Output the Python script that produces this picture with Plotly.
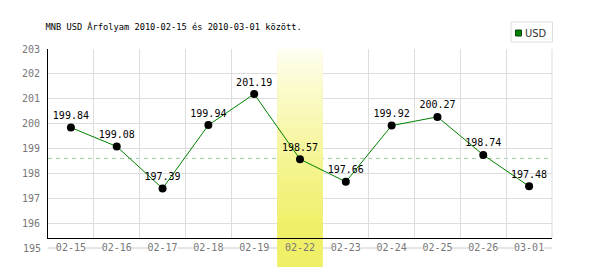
import plotly.graph_objects as go

# ---- data ----
categories = ["02-15", "02-16", "02-17", "02-18", "02-19", "02-22",
              "02-23", "02-24", "02-25", "02-26", "03-01"]
usd_rate = [199.84, 199.08, 197.39, 199.94, 201.19, 198.57,
            197.66, 199.92, 200.27, 198.74, 197.48]
y_ticks = [196, 197, 198, 199, 200, 201, 202, 203]
bottom_label = "195"
ref_level = 198.6
highlight_cat = "02-22"
title_text = "MNB USD Árfolyam 2010-02-15 és 2010-03-01 között."
series_name = "USD"

# ---- geometry (pixels) ----
W, H = 600, 270
L, R, T, B = 48, 48, 49, 32
plot_h = H - T - B
y_min, y_max = 195.4, 203
band_bottom = 267

MONO = "DejaVu Sans Mono"


def px_x(p):
    return (p - L) / (W - L - R)


def px_y(p):
    return (H - B - p) / plot_h


def px_val(p):
    return y_max - (p - T) * (y_max - y_min) / plot_h


fig = go.Figure()
fig.add_trace(go.Scatter(
    x=categories, y=usd_rate, mode="lines+markers+text",
    name=series_name, showlegend=False,
    line=dict(color="#008000", width=1),
    marker=dict(color="black", size=8),
    text=[f"{v:.2f}" for v in usd_rate], textposition="top center",
    textfont=dict(family=MONO, size=10, color="black"),
    cliponaxis=False, hoverinfo="skip",
))

shapes = []
# gray line at the 195 level, between x tick labels
for k in range(len(categories) + 1):
    b = k - 0.5
    shapes.append(dict(type="line", xref="x", yref="paper",
                       x0=b - 0.18, x1=b + 0.18,
                       y0=-10 / plot_h, y1=-10 / plot_h,
                       line=dict(color="#cccccc", width=1), layer="below"))
# dashed reference level
shapes.append(dict(type="line", xref="paper", yref="y", x0=0, x1=1,
                   y0=ref_level, y1=ref_level,
                   line=dict(color="#a0c8a0", width=1, dash="4px,4px"),
                   layer="below"))
# highlight band with vertical gradient
hi = categories.index(highlight_cat)
top_c = (255, 255, 244)
bot_c = (240, 240, 104)


def grad(py):
    f = min(1.0, (py - T) / 175.0)
    f = f ** 0.85
    return "rgb(%d,%d,%d)" % tuple(round(top_c[j] + (bot_c[j] - top_c[j]) * f)
                                   for j in range(3))


n_in, n_out = 38, 6
step_in = plot_h / n_in
for i in range(n_in):
    p0 = T + i * step_in
    p1 = p0 + step_in
    shapes.append(dict(type="rect", xref="x", yref="y",
                       x0=hi - 0.5, x1=hi + 0.5,
                       y0=px_val(min(p1 + 0.6, H - B)), y1=px_val(p0),
                       fillcolor=grad((p0 + p1) / 2), line=dict(width=0),
                       layer="between"))
below_h = band_bottom - (H - B)
step_out = below_h / n_out
for i in range(n_out):
    p0 = H - B + i * step_out
    p1 = p0 + step_out
    shapes.append(dict(type="rect", xref="x", yref="paper",
                       x0=hi - 0.5, x1=hi + 0.5,
                       y0=px_y(min(p1 + 0.6, band_bottom)), y1=px_y(p0),
                       fillcolor=grad((p0 + p1) / 2), line=dict(width=0),
                       layer="below"))
# right border
shapes.append(dict(type="line", xref="paper", yref="paper", x0=1, x1=1,
                   y0=0, y1=1, line=dict(color="#dddddd", width=1),
                   layer="below"))
# legend box
lx0, lx1, ly0, ly1 = 511, 552.5, 22, 42
shapes.append(dict(type="rect", xref="paper", yref="paper",
                   x0=px_x(lx0), x1=px_x(lx1), y0=px_y(ly1), y1=px_y(ly0),
                   line=dict(color="#dddddd", width=1), fillcolor="white",
                   layer="above"))
shapes.append(dict(type="rect", xref="paper", yref="paper",
                   x0=px_x(515.5), x1=px_x(521.5), y0=px_y(36), y1=px_y(30),
                   line=dict(color="#114411", width=1), fillcolor="#008000",
                   layer="above"))

annotations = [
    dict(text=bottom_label, xref="paper", yref="paper", x=0, y=-10 / plot_h,
         xanchor="right", yanchor="middle", xshift=-5, showarrow=False,
         font=dict(family=MONO, size=10, color="#777777")),
    dict(text=series_name, xref="paper", yref="paper", x=px_x(522.5),
         y=px_y(33), xanchor="left", yanchor="middle", showarrow=False,
         font=dict(family="Liberation Sans Narrow, DejaVu Sans Condensed, Arial",
                   size=11, color="#333333")),
]

fig.update_layout(
    width=W, height=H,
    margin=dict(l=L, r=R, t=T, b=B, pad=0),
    paper_bgcolor="white", plot_bgcolor="white",
    title=dict(text=title_text, x=45.5 / W, xanchor="left",
               y=1 - 27 / H, yanchor="middle",
               font=dict(family=MONO, size=8.7, color="black")),
    shapes=shapes, annotations=annotations,
    xaxis=dict(type="category", range=[-0.5, len(categories) - 0.5],
               tickson="boundaries", ticks="", showgrid=True,
               gridcolor="#dddddd", gridwidth=1,
               showline=True, linecolor="black", linewidth=1,
               tickfont=dict(family=MONO, size=10, color="#777777"),
               fixedrange=True, zeroline=False),
    yaxis=dict(range=[y_min, y_max], tickvals=y_ticks, ticks="",
               ticklabelstandoff=5,
               showgrid=True, gridcolor="#dddddd", gridwidth=1,
               showline=True, linecolor="black", linewidth=1,
               tickfont=dict(family=MONO, size=10, color="#777777"),
               zeroline=False, fixedrange=True),
    showlegend=False,
)

fig.write_html("out.html")
